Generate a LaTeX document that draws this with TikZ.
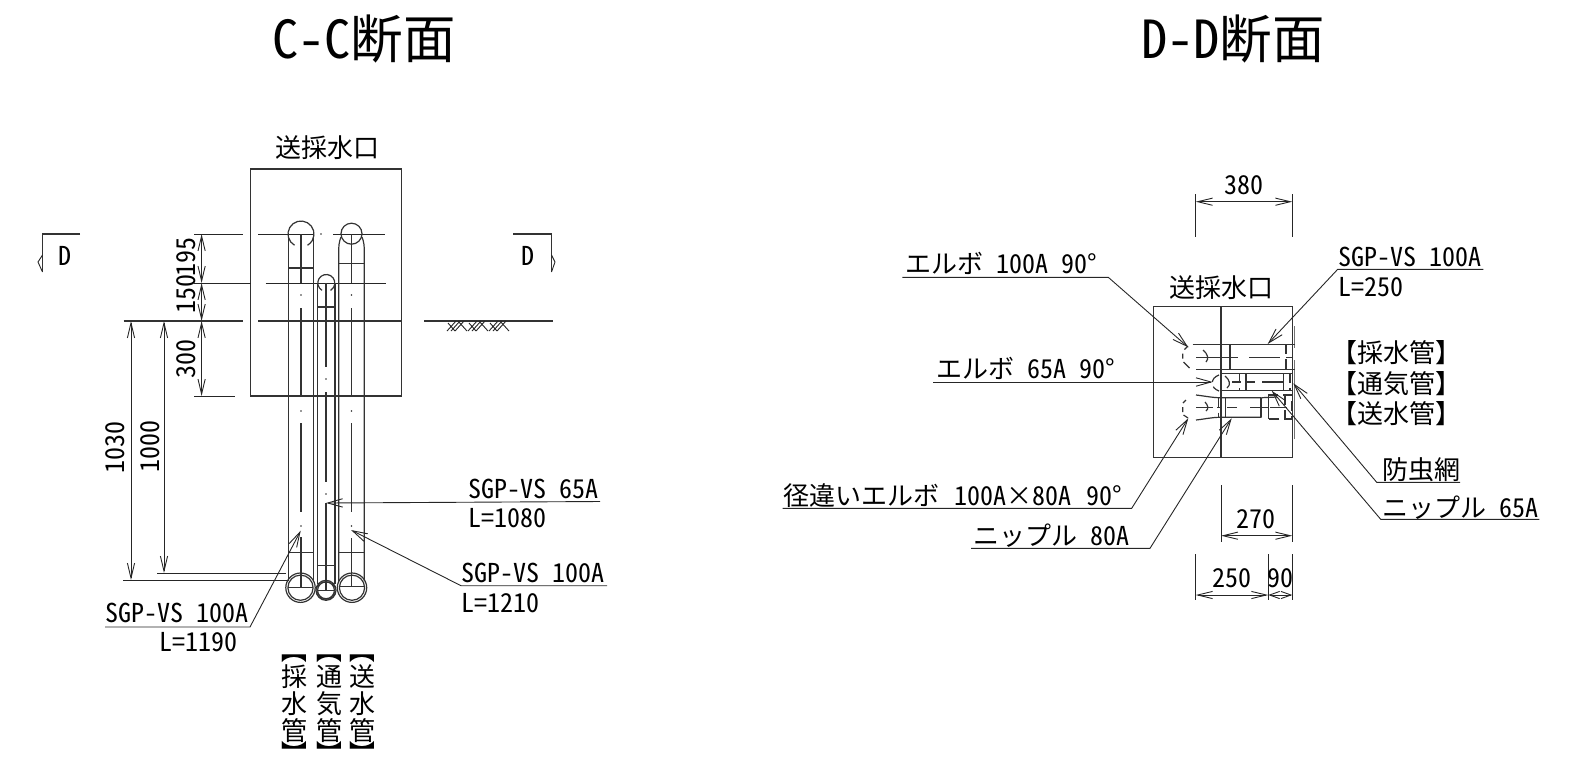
\documentclass[tikz,border=0pt]{standalone}
\usepackage{fontspec}
\setmainfont{Noto Sans CJK JP}
\newfontfamily\lat[RawFeature=+hwid]{Noto Sans CJK JP}
\usetikzlibrary{arrows.meta}
\newcommand{\lblfont}{\fontsize{13}{15}\selectfont\spaceskip=.5em\relax}
\newcommand{\ttlfont}{\fontsize{26.2}{29}\selectfont}
\newcommand{\gapcirc}[3]{\draw[ln] ([shift={(120:#3)}]#1,#2) arc (120:420:#3);}
\tikzset{
 ln/.style={line width=.6pt,draw=black!80},
 thn/.style={line width=.45pt,draw=black!85},
 tip/.style={thn,-{Straight Barb[length=7.5pt,width=4.2pt]}},
 dimn/.style={thn,{Straight Barb[length=7.5pt,width=3.6pt]}-{Straight Barb[length=7.5pt,width=3.6pt]}},
 dsh/.style={ln,dash pattern=on 5pt off 2.5pt},
 lab/.style={inner sep=0,outer sep=0,font=\lblfont,anchor=base west},
 labc/.style={inner sep=0,outer sep=0,font=\lblfont,anchor=base},
 rot/.style={inner sep=0,outer sep=0,font=\lblfont,anchor=base,rotate=90},
 ttl/.style={inner sep=0,outer sep=0,font=\ttlfont,anchor=base west},
 vch/.style={inner sep=0,outer sep=0,font=\lblfont,anchor=center},
}
\begin{document}
\begin{tikzpicture}[x=.5pt,y=-.5pt]
\useasboundingbox (0,0) rectangle (1592,757);
% titles
\node[ttl] (t1) at (272,58) {{\lat C-C}断面};
\node[ttl] (t2) at (1141,58) {{\lat D-D}断面};
% ===== C-C =====
\node[labc] (cap1) at (327,157) {送採水口};
\draw[ln] (250.4,169) rectangle (401.7,396);
% level lines
\draw[thn] (194,234)--(243,234) (258,234)--(313.6,234) (333,234)--(385,234);
\fill[black!80] (321,234) circle[radius=.8];
\draw[thn] (194,283)--(251,283) (265.5,283)--(385.6,283);
\draw[ln] (123.5,321)--(243,321) (258,321)--(402,321) (424,321)--(552.6,321);
\draw[thn] (194,396)--(235,396);
\foreach \x in {447,468,489}{
 \draw[thn] (\x,331)--(\x+9,321) (\x+4,331)--(\x+13,321) (\x+8,331)--(\x+17,321) (\x+11,321)--(\x+20,331) (\x+1,323)--(\x+8,331);
}
% dims
\draw[dimn] (201.6,234)--(201.6,283);
\draw[dimn] (201.6,283)--(201.6,321);
\draw[dimn] (201.6,321)--(201.6,396);
\node[rot] (d195) at (195,257) {\lat 195};
\node[rot] (d150) at (195,294) {\lat 150};
\node[rot] (d300) at (195,359) {\lat 300};
\draw[thn] (123,580)--(287,580) (157,573)--(286,573);
\draw[dimn] (131,321)--(131,580);
\draw[dimn] (164,321)--(164,573);
\node[rot] (d1030) at (124,447) {\lat 1030};
\node[rot] (d1000) at (159,446) {\lat 1000};
% section marks
\draw[ln] (80,234)--(42.5,234)--(42.5,272);
\draw[thn] (42.5,255)--(38,262)--(42.5,272);
\node[labc] (dl) at (64.6,265) {\lat D};
\draw[ln] (513,234)--(551.5,234)--(551.5,272);
\draw[thn] (551.5,255)--(555,262)--(551.5,272);
\node[labc] (dr) at (528,265) {\lat D};
% pipe A
\gapcirc{301}{234}{13}
\draw[ln] (288.3,234)--(288.3,581) (313.3,234)--(313.3,581);
\draw[ln] (288.3,268)--(313.3,268) (288.3,552.7)--(313.3,552.7);
\draw[ln] (301,234)--(301,283) (301,308)--(301,397) (301,423)--(301,512) (301,537)--(301,587);
\foreach \y in {295,411,526}{\fill[black!80] (301,\y) circle[radius=.8];}
\draw[ln] (300.5,587.7) circle[radius=14.7] (300.5,587.7) circle[radius=12.6];
\draw[ln] (288,587.7)--(313,587.7);
% pipe B
\gapcirc{326.3}{283}{8.5}
\draw[ln] (317.7,283)--(317.7,584) (335,283)--(335,584);
\draw[ln] (317.7,307)--(335,307) (317.7,565.7)--(335,565.7);
\draw[ln] (326,283)--(326,367) (326,392)--(326,482) (326,503)--(326,590);
\foreach \y in {379,494}{\fill[black!80] (326,\y) circle[radius=.8];}
\draw[ln] (326,590.3) circle[radius=10] (326,590.3) circle[radius=8.4];
\draw[ln] (318,590.3)--(334,590.3);
% pipe C
\draw[ln] (351.5,233.7) circle[radius=10.5];
\draw[ln] (341,237) .. controls (339,242) and (338.7,246) .. (338.7,252) -- (338.7,581);
\draw[ln] (362,237) .. controls (364,242) and (364.3,246) .. (364.3,252) -- (364.3,581);
\draw[ln] (338.7,263.3)--(364.3,263.3) (338.7,552.7)--(364.3,552.7);
\draw[ln] (351.5,234)--(351.5,283) (351.5,308)--(351.5,397) (351.5,423)--(351.5,512) (351.5,538)--(351.5,587);
\foreach \y in {295,411,526}{\fill[black!80] (351.5,\y) circle[radius=.8];}
\draw[ln] (352,587.7) circle[radius=14.7] (352,587.7) circle[radius=12.6];
\draw[ln] (339.5,586.7)--(364.5,586.7);
% C-C leaders
\coordinate (a65) at (326,503);
\coordinate (ar) at (351,530);
\coordinate (al) at (300.7,530.7);
\node[lab] (s65) at (468,498) {\lat SGP-VS 65A};
\node[lab] (l65) at (468,527) {\lat L=1080};
\draw[tip] (600,501.5)--(a65);
\node[lab] (s100r) at (461.7,582) {\lat SGP-VS 100A};
\node[lab] (l100r) at (461.7,612) {\lat L=1210};
\draw[tip] (607,585.7)--(461,585.7)--(ar);
\node[lab] (s100l) at (105,622) {\lat SGP-VS 100A};
\node[lab] (l100l) at (159,651) {\lat L=1190};
\draw[tip] (105,627)--(250,627)--(al);
% vertical labels
\foreach \x/\a/\b [count=\i] in {294/採/水,329/通/気,362/送/水}{
 \node[vch,rotate=-90] (bo\i) at (\x,657) {\makebox[.5em][r]{\makebox[1em][r]{【}}};
 \node[vch] (a\i) at (\x,677) {\a};
 \node[vch] (b\i) at (\x,704) {\b};
 \node[vch] (c\i) at (\x,731) {管};
 \node[vch,rotate=-90] (bc\i) at (\x,747) {\makebox[.5em][l]{\makebox[1em][l]{】}}};
}
% ===== D-D =====
\node[labc] (cap2) at (1221,297) {送採水口};
\draw[ln] (1153.3,306.7) rectangle (1292.3,457.3);
\draw[ln] (1221,306.7)--(1221,457.3);
% plate
\draw[ln,draw=black!55] (1294.8,326)--(1294.8,348) (1294.8,360)--(1294.8,439);
% top pipe
\draw[ln] (1192.7,344.3)--(1295,344.3) (1196,369.3)--(1295,369.3);
\draw[ln] (1196,357.3)--(1237.7,357.3) (1249,357.3)--(1279.5,357.3) (1286,357.3)--(1292,357.3);
\draw[ln] (1230,344.3)--(1230,369.3);
\draw[dsh] (1286,344.3)--(1286,369.3);
\draw[ln] (1188,346)--(1184.5,349.5) (1182.7,353.5)--(1182.7,358.5) (1183.5,362)--(1189.5,368);
\draw[ln] (1203,350) .. controls (1208,354) and (1209,359) .. (1206,362);
% middle pipe
\draw[ln] (1221,373.3)--(1292.7,373.3) (1221,390.7)--(1292.7,390.7);
\draw[ln] (1232,382)--(1241,382) (1262,382)--(1283,382) (1246,382)--(1255,382);
\draw[dsh] (1239.3,373.3)--(1239.3,390.7) (1290,373.3)--(1290,390.7);
\draw[ln] (1246,373.3)--(1246,390.7) (1283.3,373.3)--(1283.3,390.7);
\draw[dsh] (1219,375) .. controls (1210,378) and (1210,388) .. (1219,391);
\draw[ln] (1225,376) .. controls (1230,380) and (1231,385) .. (1227,388);
% bottom pipe
\draw[ln] (1196,395) .. controls (1205,396) and (1212,397.7) .. (1220,397.7) -- (1261.7,397.7);
\draw[ln] (1196,420) .. controls (1205,419) and (1212,417.3) .. (1220,417.3) -- (1261.7,417.3);
\draw[ln] (1261.7,397.7)--(1277,397);
\draw[ln] (1196,407.7)--(1213,407.7) (1217,407.7)--(1220,407.7) (1227,407.7)--(1237,407.7) (1250,407.7)--(1268,407.7) (1270,407.7)--(1287,407.7);
\draw[dsh] (1218.3,397.7)--(1218.3,417.3);
\draw[ln] (1225.7,397.7)--(1225.7,417.3) (1261,397.7)--(1261,417.3) (1268.3,395)--(1268.3,419);
\draw[dsh] (1268,395)--(1291.7,395)--(1291.7,419)--(1268,419);
\draw[dsh] (1285,395)--(1285,419);
\draw[ln] (1186,400)--(1183,403) (1182.7,407)--(1182.7,412) (1183.5,415)--(1188,418);
\draw[ln] (1205,402) .. controls (1208,405) and (1209,409) .. (1206,411);
% D-D leaders
\coordinate (e100) at (1188.3,347.3);
\coordinate (e65) at (1212.7,382);
\coordinate (er) at (1188.3,418.3);
\coordinate (n80) at (1231.7,418.3);
\coordinate (s100) at (1267.7,344);
\coordinate (net) at (1293.3,383.3);
\coordinate (n65) at (1271.7,390.7);
\node[lab] (te100) at (905,273) {エルボ {\lat 100A 90°}};
\draw[tip] (902.3,277.3)--(1108.3,277.3)--(e100);
\node[lab] (te65) at (936,378) {エルボ {\lat 65A 90°}};
\draw[tip] (933.3,382)--(e65);
\node[lab] (ter) at (783,505) {径違いエルボ\hspace{1.5pt} {\lat 100A}×{\lat 80A\hspace{1pt} 90°}};
\draw[tip] (782.7,508.3)--(1131.7,508.3)--(er);
\node[lab] (tn80) at (973,545) {ニップル {\lat 80A}};
\draw[tip] (971,548.3)--(1150,548.3)--(n80);
\node[lab] (ts100) at (1338,266) {\lat SGP-VS 100A};
\node[lab] (tl250) at (1338,296) {\lat L=250};
\draw[tip] (1483.3,269.3)--(1337.7,269.3)--(s100);
\node[labc] (k1) at (1396,362) {【採水管】};
\node[labc] (k2) at (1396,393) {【通気管】};
\node[labc] (k3) at (1396,423) {【送水管】};
\node[lab] (tnet) at (1382,479) {防虫網};
\draw[tip] (1460,482.3)--(1376.7,482.3)--(net);
\node[lab] (tn65) at (1382,517) {ニップル {\lat 65A}};
\draw[tip] (1539.3,519.3)--(1380.7,519.3)--(n65);
% D-D dims
\draw[thn] (1195.7,194.3)--(1195.7,236.7) (1292.3,194.3)--(1292.3,236.7);
\draw[dimn] (1195.7,201.7)--(1292.3,201.7);
\node[labc] (d380) at (1244,194) {\lat 380};
\draw[thn] (1221,485)--(1221,542.3) (1292.3,485)--(1292.3,542.3);
\draw[dimn] (1221,535.7)--(1292.3,535.7);
\node[labc] (d270) at (1256,528) {\lat 270};
\draw[thn] (1195.7,554)--(1195.7,600) (1268.3,554)--(1268.3,600) (1292.3,554)--(1292.3,600);
\draw[dimn] (1195.7,595)--(1268.3,595);
\draw[thn,{Straight Barb[length=5pt,width=3.6pt]}-{Straight Barb[length=5pt,width=3.6pt]}] (1268.3,595)--(1292.3,595);
\node[labc] (d250) at (1232,587) {\lat 250};
\node[labc] (d90) at (1280.7,587) {\lat 90};
\end{tikzpicture}
\end{document}
